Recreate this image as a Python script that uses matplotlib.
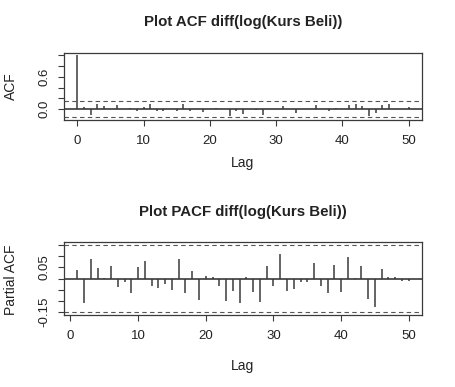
import numpy as np
import matplotlib
matplotlib.use("Agg")
import matplotlib.pyplot as plt

plt.rcParams['font.family'] = ['Liberation Sans', 'DejaVu Sans']

# ACF values, lag 0..50
acf_lag = np.arange(0, 51)
acf_val = [1.00, 0.05, -0.10, 0.09, 0.06, 0.01, 0.07, 0.00, 0.02, -0.04,
           0.05, 0.09, -0.04, -0.04, 0.00, -0.04, 0.10, -0.04, 0.00, -0.06,
           0.00, 0.03, 0.01, -0.12, -0.04, -0.09, 0.00, -0.02, -0.10, 0.01,
           0.00, 0.06, 0.01, -0.07, 0.00, 0.00, 0.07, 0.00, -0.04, 0.02,
           0.00, 0.07, 0.09, 0.06, -0.12, -0.07, 0.07, 0.10, 0.01, 0.01,
           0.04]

# PACF values, lag 1..50
pacf_lag = np.arange(1, 51)
pacf_val = [0.038, -0.112, 0.089, 0.048, 0.003, 0.056, -0.038, -0.018, -0.067, 0.050,
            0.077, -0.033, -0.041, -0.024, -0.053, 0.088, -0.067, 0.033, -0.095, 0.011,
            0.008, -0.033, -0.100, -0.055, -0.109, 0.008, -0.061, -0.105, 0.055, -0.033,
            0.112, -0.055, -0.047, -0.017, -0.014, 0.070, -0.033, -0.067, 0.062, -0.061,
            0.095, 0.003, 0.056, -0.092, -0.127, 0.045, 0.009, 0.008, -0.012, -0.012]

ci = 0.153

W, H = 455, 387
fig = plt.figure(figsize=(W / 100, H / 100), dpi=100)

def box(l, t, r, b):
    return [l / W, 1 - b / H, (r - l) / W, (b - t) / H]

def ftext(x, y, s, **kw):
    fig.text(x / W, 1 - y / H, s, ha='center', va='center', color='#222222', **kw)

line_col = '#3a3a3a'

def style(ax):
    for s in ax.spines.values():
        s.set_color(line_col)
        s.set_linewidth(0.9)
    ax.tick_params(direction='out', length=4.5, width=0.8, color=line_col,
                   labelsize=9.5, labelcolor='#222222')
    ax.tick_params(axis='x', pad=6.5)
    ax.tick_params(axis='y', pad=5)
    ax.set_xticks([0, 10, 20, 30, 40, 50])

# ACF
ax1 = fig.add_axes(box(64, 53, 422, 120))
ax1.vlines(acf_lag, 0, acf_val, color=line_col, linewidth=1.1)
ax1.axhline(0, color=line_col, linewidth=1.2)
ax1.axhline(ci, color='#555555', linewidth=0.8, linestyle=(0, (4, 3)))
ax1.axhline(-ci, color='#555555', linewidth=0.8, linestyle=(0, (4, 3)))
ax1.set_xlim(-2, 52)
ax1.set_ylim(-0.201, 1.046)
ax1.set_yticks([0.0, 0.2, 0.4, 0.6, 0.8, 1.0])
ax1.set_yticklabels(["0.0", "", "", "0.6", "", ""], rotation=90, va='center')
style(ax1)
ftext(243, 22, "Plot ACF diff(log(Kurs Beli))", fontsize=10.8, fontweight='bold')
ftext(243, 163, "Lag", fontsize=10)
ftext(11, 86, "ACF", fontsize=10, rotation=90)

# PACF
ax2 = fig.add_axes(box(64, 242, 422, 315))
ax2.vlines(pacf_lag, 0, pacf_val, color=line_col, linewidth=1.1)
ax2.axhline(0, color=line_col, linewidth=1.2)
ax2.axhline(ci, color='#555555', linewidth=0.8, linestyle=(0, (4, 3)))
ax2.axhline(-ci, color='#555555', linewidth=0.8, linestyle=(0, (4, 3)))
ax2.set_xlim(-0.96, 51.96)
ax2.set_ylim(-0.165, 0.165)
ax2.set_yticks([-0.15, -0.10, -0.05, 0.0, 0.05, 0.10, 0.15])
ax2.set_yticklabels(["-0.15", "", "", "", "0.05", "", ""], rotation=90, va='center')
style(ax2)
ftext(243, 212, "Plot PACF diff(log(Kurs Beli))", fontsize=10.8, fontweight='bold')
ftext(243, 366, "Lag", fontsize=10)
ftext(11, 280, "Partial ACF", fontsize=10, rotation=90)

fig.savefig("out.png", dpi=100, facecolor='white')
